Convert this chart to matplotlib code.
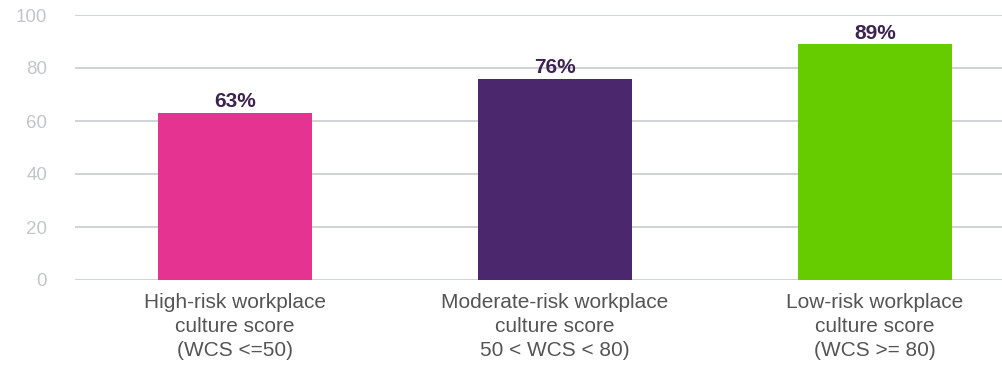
import matplotlib.pyplot as plt

# Data
categories = [
    'High-risk workplace\nculture score\n(WCS <=50)',
    'Moderate-risk workplace\nculture score\n50 < WCS < 80)',
    'Low-risk workplace\nculture score\n(WCS >= 80)',
]
values = [63, 76, 89]
colors = ['#E53392', '#4B286D', '#66CC00']
y_ticks = [0, 20, 40, 60, 80, 100]

plt.rcParams['font.family'] = ['Liberation Sans', 'DejaVu Sans']

fig = plt.figure(figsize=(10.02, 3.65), dpi=100)
ax = fig.add_axes([75 / 1002, 85 / 365, 927 / 1002, 265 / 365])

x = range(len(values))
bars = ax.bar(x, values, width=0.48, color=colors, zorder=3)

# Value labels above bars
for rect, v in zip(bars, values):
    ax.text(rect.get_x() + rect.get_width() / 2, v + 0.6, f"{v}%",
            ha='center', va='bottom', fontsize=15, fontweight='bold',
            color='#3D2352')

ax.set_xlim(-0.5, -0.5 + 927 / 320)
ax.set_ylim(0, 100)
ax.set_yticks(y_ticks)
ax.set_yticklabels([str(t) for t in y_ticks], color='#C2C5C9', fontsize=13.5)
ax.set_xticks(list(x))
ax.set_xticklabels(categories, fontsize=15, color='#555555', linespacing=1.35)

ax.yaxis.grid(True, color='#C8CCD0', linewidth=1.2, zorder=0)
ax.tick_params(axis='both', length=0)
ax.tick_params(axis='y', pad=20)
ax.tick_params(axis='x', pad=9)
for s in ax.spines.values():
    s.set_visible(False)

fig.savefig('out.png', dpi=100)
